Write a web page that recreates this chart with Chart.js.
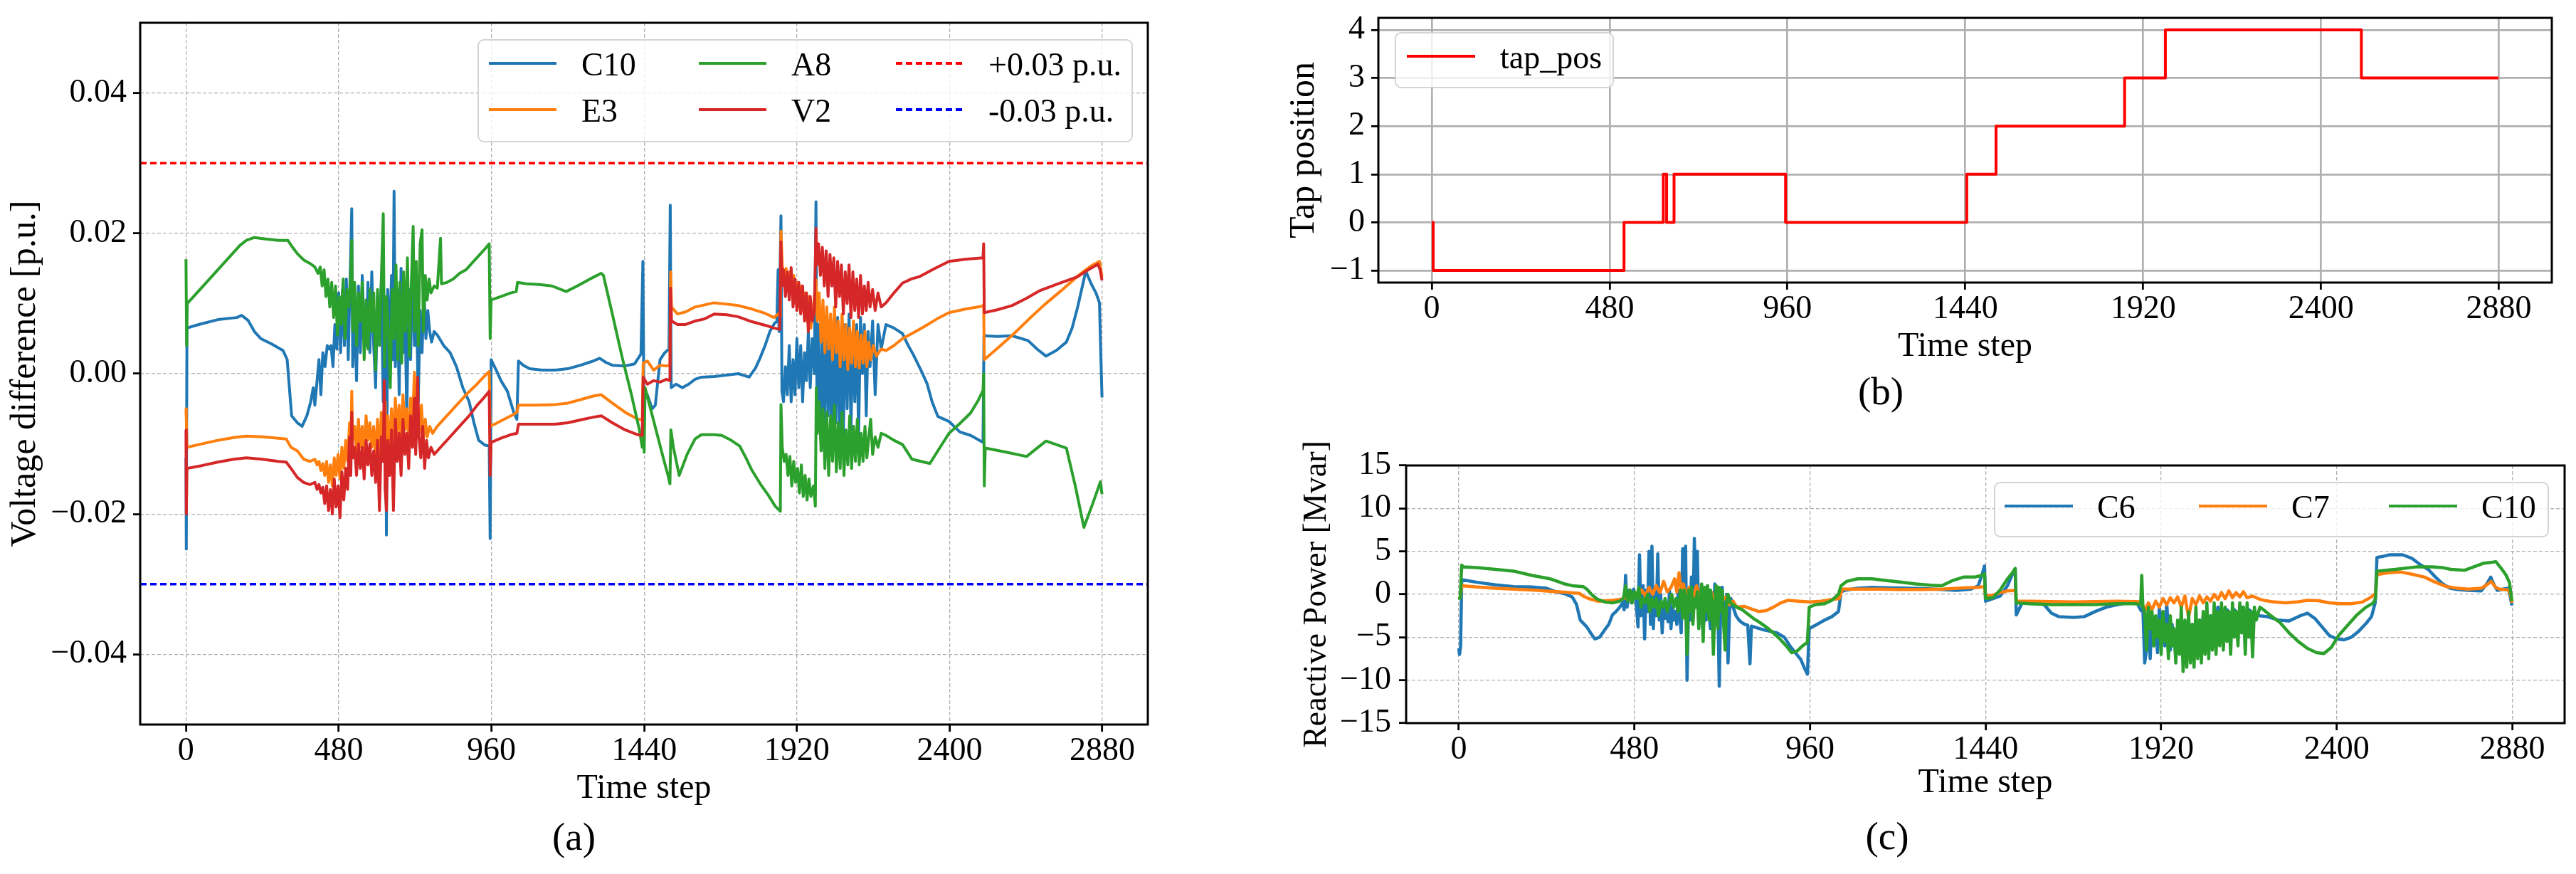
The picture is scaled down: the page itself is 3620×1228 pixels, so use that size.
<!DOCTYPE html>
<html><head><meta charset="utf-8">
<script src="https://cdn.jsdelivr.net/npm/chart.js@4.4.1/dist/chart.umd.min.js"></script>
<style>
html,body{margin:0;padding:0;background:#fff;}
body{width:3620px;height:1228px;position:relative;overflow:hidden;}
canvas{position:absolute;z-index:1;}
.lg{position:absolute;box-sizing:border-box;border:2.5px solid #d4d4d4;border-radius:9px;background:rgba(255,255,255,0.8);z-index:2;}
.lh{position:absolute;z-index:3;}
.lt{position:absolute;z-index:3;font-size:46px;line-height:1;color:#000;white-space:nowrap;transform:translateY(-50%);}
</style></head><body>
<canvas id="ca" width="1700" height="1228" style="left:0;top:0;width:1700px;height:1228px"></canvas>
<canvas id="cb" width="1920" height="610" style="left:1700px;top:0;width:1920px;height:610px"></canvas>
<canvas id="cc" width="1920" height="618" style="left:1700px;top:610px;width:1920px;height:618px"></canvas>
<script>
// ---------------- DATA ----------------
const xTicks = [0, 480, 960, 1440, 1920, 2400, 2880];
const yTicksA = [-0.04, -0.02, 0, 0.02, 0.04];
const yTicksB = [-1, 0, 1, 2, 3, 4];
const yTicksC = [-15, -10, -5, 0, 5, 10, 15];
const labelsA = ['C10', 'E3', 'A8', 'V2', '+0.03 p.u.', '-0.03 p.u.'];
const labelsB = ['tap_pos'];
const labelsC = ['C6', 'C7', 'C10'];
const upperLimit = 0.03;
const lowerLimit = -0.03;

// Panel (a): voltage difference [p.u.]  [time step, value]
const voltC10 = [[0,-0.012],[1,-0.025],[3,0.0065],[40,0.007],[100,0.0077],[160,0.008],[175,0.0083],[195,0.0076],[215,0.006],[235,0.005],[270,0.0042],[305,0.0033],[318,0.002],[332,-0.006],[350,-0.007],[365,-0.0075],[380,-0.006],[392,-0.004],[400,-0.002],[405,-0.0045],[412,-0.001],[418,0.002],[424,-0.003],[430,0.003],[437,0.001],[444,0.004],[450,0.0035],[456,0.004],[462,0.001],[468,0.007],[474,0.0035],[480,0.0115],[486,0.003],[492,0.012],[498,0.004],[504,0.0135],[510,0.002],[516,0.014],[521,0.0235],[524,0.001],[530,0.009],[536,-0.001],[542,0.0125],[548,0.003],[554,0.014],[560,0.006],[566,0.004],[572,0.013],[578,0.003],[584,0.0145],[590,0.004],[596,-0.002],[602,0.011],[608,0.005],[614,0.013],[620,-0.004],[626,0.009],[630,-0.023],[634,0.012],[640,0.004],[646,0.014],[650,0.002],[654,0.026],[658,0.001],[664,0.012],[670,-0.003],[676,0.015],[682,0.003],[688,0.01],[694,-0.006],[700,0.012],[706,0.002],[712,0.016],[718,0.004],[724,0.011],[730,-0.004],[736,0.009],[742,0.003],[748,0.012],[754,0.005],[760,0.009],[766,0.006],[772,0.0045],[780,0.006],[790,0.0055],[810,0.004],[830,0.003],[850,0.001],[870,-0.002],[890,-0.004],[905,-0.007],[920,-0.0095],[940,-0.0102],[953,-0.0103],[956,-0.0235],[959,0.002],[975,0.0005],[990,-0.001],[1010,-0.0025],[1030,-0.0055],[1040,-0.0065],[1045,0.0018],[1060,0.0012],[1080,0.0007],[1120,0.0005],[1160,0.0005],[1200,0.0007],[1240,0.0012],[1280,0.0018],[1300,0.0022],[1320,0.0016],[1340,0.0012],[1380,0.0011],[1410,0.0014],[1430,0.0028],[1436,0.016],[1439,-0.003],[1450,-0.003],[1465,-0.005],[1475,-0.0045],[1490,0.002],[1505,0.003],[1518,0.0035],[1522,0.024],[1525,-0.002],[1540,-0.0015],[1560,-0.002],[1580,-0.0015],[1600,-0.0008],[1620,-0.0005],[1660,-0.0004],[1700,-0.0002],[1736,0.0],[1770,-0.0005],[1790,0.0008],[1805,0.0023],[1820,0.004],[1835,0.006],[1850,0.0072],[1857,0.0074],[1861,0.0148],[1864,0.006],[1870,0.0225],[1873,-0.0025],[1878,-0.004],[1884,0.001],[1890,-0.003],[1896,0.004],[1902,-0.004],[1908,0.002],[1914,-0.003],[1920,0.005],[1926,-0.002],[1932,0.004],[1938,-0.004],[1944,0.003],[1950,-0.001],[1956,0.006],[1962,-0.002],[1968,0.005],[1975,0.0],[1980,0.0245],[1983,-0.004],[1988,0.007],[1994,-0.009],[2000,0.006],[2006,-0.011],[2012,0.008],[2018,-0.006],[2024,0.005],[2030,-0.0115],[2036,0.006],[2042,-0.007],[2048,0.008],[2054,-0.01],[2060,0.004],[2066,-0.009],[2072,0.007],[2078,-0.005],[2084,0.0085],[2090,-0.008],[2096,0.006],[2102,-0.004],[2108,0.007],[2114,-0.009],[2120,0.008],[2126,0.0],[2132,0.007],[2138,-0.006],[2144,0.006],[2150,0.001],[2158,0.0075],[2166,-0.003],[2175,0.007],[2185,0.0035],[2200,0.007],[2225,0.0065],[2252,0.0057],[2270,0.004],[2286,0.0027],[2310,0.0005],[2329,-0.0014],[2345,-0.004],[2363,-0.0061],[2398,-0.0068],[2432,-0.0083],[2466,-0.0088],[2490,-0.0094],[2505,-0.0098],[2508,0.0054],[2550,0.0053],[2596,0.0054],[2625,0.005],[2647,0.0047],[2675,0.0035],[2703,0.0025],[2735,0.0033],[2767,0.0045],[2785,0.0065],[2802,0.0094],[2815,0.012],[2828,0.0146],[2845,0.0128],[2860,0.0115],[2871,0.0101],[2875,0.003],[2879,-0.0034]];

const voltE3 = [[0,-0.005],[1,-0.0065],[3,-0.0105],[50,-0.01],[100,-0.0095],[150,-0.0091],[190,-0.0089],[240,-0.009],[290,-0.0092],[315,-0.0093],[330,-0.0105],[350,-0.011],[370,-0.0122],[390,-0.0125],[405,-0.0122],[412,-0.013],[418,-0.0125],[424,-0.0138],[430,-0.0128],[436,-0.0145],[442,-0.0125],[448,-0.0155],[454,-0.013],[460,-0.016],[466,-0.012],[472,-0.0145],[478,-0.0115],[484,-0.015],[490,-0.0105],[496,-0.0135],[502,-0.0095],[508,-0.0125],[514,-0.007],[518,-0.0115],[521,-0.0025],[524,-0.0095],[530,-0.0075],[536,-0.011],[542,-0.0065],[548,-0.0105],[554,-0.0075],[560,-0.0115],[566,-0.006],[572,-0.0095],[578,-0.007],[584,-0.0105],[590,-0.0075],[596,-0.012],[602,-0.0065],[608,-0.0115],[614,-0.0055],[620,-0.009],[626,-0.004],[630,-0.012],[634,-0.006],[640,-0.0105],[646,-0.005],[652,-0.01],[658,-0.0035],[664,-0.0085],[670,-0.0045],[676,-0.0095],[682,-0.003],[688,-0.008],[694,-0.005],[700,-0.0095],[706,-0.0035],[712,-0.007],[718,0.0002],[722,-0.006],[728,-0.0035],[734,-0.0085],[740,-0.0045],[746,-0.0095],[752,-0.0065],[758,-0.009],[766,-0.0075],[775,-0.0085],[790,-0.0075],[820,-0.006],[850,-0.0045],[880,-0.003],[910,-0.0017],[935,-0.0005],[953,0.0003],[956,-0.0075],[970,-0.0072],[1000,-0.0065],[1030,-0.0058],[1040,-0.0055],[1045,-0.0045],[1100,-0.0045],[1160,-0.0044],[1200,-0.0042],[1240,-0.0037],[1280,-0.0032],[1305,-0.003],[1340,-0.0042],[1380,-0.0055],[1420,-0.0065],[1434,-0.0066],[1437,0.0015],[1450,0.0018],[1470,0.0005],[1490,0.0012],[1510,0.0011],[1521,0.0012],[1523,0.0145],[1526,0.0095],[1545,0.0085],[1570,0.0088],[1600,0.0095],[1630,0.0098],[1660,0.0101],[1700,0.0099],[1736,0.0097],[1779,0.0092],[1820,0.0086],[1848,0.008],[1861,0.0085],[1868,0.0082],[1870,0.0203],[1874,0.0155],[1880,0.0135],[1886,0.015],[1892,0.0125],[1898,0.0145],[1904,0.0115],[1910,0.014],[1916,0.01],[1922,0.013],[1928,0.0095],[1934,0.0125],[1940,0.009],[1946,0.0115],[1952,0.0075],[1958,0.011],[1964,0.0065],[1972,0.0095],[1980,0.0134],[1984,0.0075],[1990,0.0115],[1996,0.0045],[2002,0.0105],[2008,0.003],[2014,0.0095],[2020,0.0035],[2026,0.0085],[2032,0.002],[2038,0.0095],[2044,0.003],[2050,0.0075],[2056,0.001],[2062,0.0085],[2068,0.002],[2074,0.007],[2080,0.0006],[2086,0.0065],[2092,0.0015],[2098,0.0075],[2104,0.001],[2110,0.006],[2116,0.0008],[2122,0.0055],[2128,0.0015],[2134,0.006],[2140,0.001],[2146,0.0045],[2152,0.002],[2160,0.004],[2170,0.0025],[2185,0.0035],[2200,0.0033],[2225,0.004],[2252,0.005],[2285,0.0058],[2320,0.0067],[2360,0.0078],[2398,0.0087],[2450,0.0092],[2502,0.0096],[2507,0.0098],[2509,0.002],[2550,0.0036],[2600,0.0056],[2650,0.0078],[2700,0.0099],[2750,0.0118],[2800,0.0138],[2828,0.0148],[2850,0.0155],[2871,0.016],[2879,0.0138]];

const voltA8 = [[0,0.0163],[2,0.004],[4,0.01],[30,0.0113],[60,0.0128],[100,0.0148],[140,0.0168],[170,0.0183],[190,0.019],[215,0.0194],[250,0.0192],[290,0.019],[320,0.019],[335,0.018],[350,0.0171],[370,0.0162],[390,0.0157],[405,0.0152],[415,0.0143],[422,0.0152],[428,0.0125],[434,0.0148],[440,0.011],[446,0.0135],[452,0.0095],[458,0.013],[464,0.008],[470,0.0125],[476,0.0055],[482,0.011],[488,0.007],[494,0.0135],[500,0.005],[506,0.012],[512,0.0095],[518,0.0145],[521,0.019],[524,0.006],[530,0.013],[536,0.004],[542,0.0115],[548,0.0075],[554,0.013],[560,0.002],[566,0.0105],[572,0.0035],[578,0.012],[584,0.006],[590,0.0115],[596,0.0005],[602,0.012],[608,0.004],[614,0.0135],[620,0.0228],[624,0.001],[630,0.011],[636,0.0065],[642,-0.002],[648,0.012],[654,0.005],[660,0.0155],[666,0.002],[672,0.013],[678,0.0015],[684,0.0145],[690,0.006],[696,0.0165],[702,0.0025],[708,0.0125],[714,0.021],[718,0.006],[724,0.016],[730,0.004],[736,0.0185],[742,0.0205],[746,0.006],[752,0.014],[758,0.0105],[764,0.0135],[770,0.0115],[780,0.0125],[790,0.0122],[800,0.0193],[803,0.0128],[820,0.013],[840,0.0135],[860,0.0143],[880,0.0148],[900,0.0158],[920,0.0168],[940,0.0178],[953,0.0185],[956,0.005],[959,0.0105],[990,0.011],[1020,0.0115],[1038,0.0117],[1042,0.013],[1070,0.0128],[1110,0.0127],[1150,0.0125],[1195,0.0117],[1230,0.0125],[1270,0.0135],[1305,0.0143],[1312,0.014],[1340,0.0085],[1370,0.0025],[1400,-0.003],[1425,-0.008],[1434,-0.0105],[1437,-0.002],[1440,-0.0112],[1443,-0.002],[1460,-0.005],[1480,-0.0085],[1500,-0.012],[1515,-0.0145],[1521,-0.0157],[1524,-0.008],[1532,-0.0105],[1550,-0.0145],[1575,-0.0115],[1600,-0.0093],[1620,-0.0087],[1660,-0.0087],[1684,-0.0088],[1710,-0.0094],[1740,-0.0103],[1760,-0.012],[1779,-0.0138],[1805,-0.0157],[1830,-0.0173],[1852,-0.0189],[1868,-0.0196],[1870,-0.0044],[1874,-0.0105],[1880,-0.0125],[1886,-0.0115],[1892,-0.0145],[1898,-0.0118],[1904,-0.016],[1910,-0.0125],[1916,-0.0155],[1922,-0.0135],[1928,-0.017],[1934,-0.013],[1940,-0.0175],[1946,-0.0145],[1952,-0.018],[1958,-0.015],[1964,-0.0175],[1972,-0.016],[1978,-0.0189],[1981,-0.002],[1984,-0.0085],[1990,-0.004],[1996,-0.011],[2002,-0.005],[2008,-0.0135],[2014,-0.0055],[2020,-0.0145],[2026,-0.006],[2032,-0.0125],[2038,-0.0045],[2044,-0.014],[2050,-0.007],[2056,-0.0135],[2062,-0.0055],[2068,-0.0145],[2074,-0.008],[2080,-0.013],[2086,-0.006],[2092,-0.0135],[2098,-0.0075],[2104,-0.0125],[2110,-0.0065],[2116,-0.013],[2122,-0.0085],[2128,-0.0125],[2134,-0.0075],[2140,-0.012],[2146,-0.009],[2152,-0.0065],[2158,-0.0115],[2166,-0.009],[2175,-0.0105],[2185,-0.0085],[2200,-0.0088],[2225,-0.0095],[2252,-0.0101],[2282,-0.0122],[2310,-0.0125],[2338,-0.0128],[2370,-0.0105],[2398,-0.0085],[2430,-0.0072],[2466,-0.0056],[2490,-0.0038],[2505,-0.0024],[2507,0.0],[2509,-0.016],[2512,-0.0106],[2580,-0.0112],[2642,-0.0118],[2703,-0.0096],[2767,-0.0106],[2795,-0.016],[2822,-0.0219],[2850,-0.0185],[2874,-0.0154],[2879,-0.0172]];

const voltV2 = [[0,-0.008],[1,-0.02],[3,-0.0135],[50,-0.0131],[100,-0.0126],[150,-0.0122],[190,-0.012],[240,-0.0122],[290,-0.0125],[315,-0.0126],[330,-0.0135],[350,-0.0148],[370,-0.0155],[390,-0.0158],[405,-0.0155],[412,-0.0165],[418,-0.0158],[424,-0.017],[430,-0.0162],[436,-0.0185],[442,-0.016],[448,-0.0195],[454,-0.0165],[460,-0.02],[466,-0.015],[472,-0.019],[478,-0.016],[484,-0.0205],[490,-0.014],[496,-0.018],[502,-0.0135],[508,-0.0165],[514,-0.009],[518,-0.0145],[521,-0.0055],[524,-0.012],[530,-0.0105],[536,-0.0145],[542,-0.01],[548,-0.0135],[554,-0.0105],[560,-0.015],[566,-0.0095],[572,-0.013],[578,-0.01],[584,-0.0145],[590,-0.011],[596,-0.0155],[602,-0.0095],[608,-0.0195],[614,-0.009],[620,-0.0125],[623,-0.001],[626,-0.0165],[630,-0.0195],[634,-0.0095],[640,-0.0145],[646,-0.008],[652,-0.0195],[658,-0.0065],[664,-0.0125],[670,-0.0085],[676,-0.0145],[682,-0.0065],[688,-0.0115],[694,-0.0085],[700,-0.0135],[706,-0.006],[712,-0.0105],[718,-0.0035],[722,-0.0115],[728,-0.0005],[732,-0.009],[738,-0.012],[744,-0.0075],[750,-0.0135],[756,-0.0095],[762,-0.012],[770,-0.0105],[780,-0.0115],[800,-0.0105],[830,-0.009],[860,-0.0075],[890,-0.006],[915,-0.0045],[935,-0.0035],[953,-0.0025],[956,-0.0145],[959,-0.0098],[990,-0.0092],[1020,-0.0087],[1040,-0.0085],[1045,-0.0072],[1100,-0.0072],[1160,-0.0072],[1200,-0.007],[1240,-0.0066],[1280,-0.0062],[1305,-0.006],[1340,-0.007],[1380,-0.008],[1420,-0.0087],[1434,-0.0088],[1437,-0.0005],[1450,-0.0015],[1470,-0.001],[1490,-0.0012],[1510,-0.0008],[1521,-0.001],[1523,0.0122],[1526,0.0075],[1545,0.007],[1570,0.007],[1600,0.0075],[1630,0.0078],[1660,0.0085],[1700,0.0084],[1736,0.0081],[1779,0.0074],[1820,0.0069],[1848,0.0065],[1866,0.0063],[1870,0.0188],[1873,0.0125],[1878,0.0148],[1884,0.011],[1890,0.0145],[1896,0.0105],[1902,0.0151],[1908,0.0095],[1914,0.0135],[1920,0.009],[1926,0.013],[1932,0.0085],[1938,0.0125],[1944,0.0075],[1950,0.0115],[1956,0.006],[1962,0.011],[1968,0.0075],[1975,0.009],[1980,0.0207],[1983,0.0155],[1988,0.0185],[1994,0.014],[2000,0.018],[2006,0.0125],[2012,0.0175],[2018,0.011],[2024,0.017],[2030,0.0125],[2036,0.0165],[2042,0.0095],[2048,0.016],[2054,0.011],[2060,0.0155],[2066,0.0085],[2072,0.0145],[2078,0.01],[2084,0.0155],[2090,0.008],[2096,0.0145],[2102,0.009],[2108,0.0135],[2114,0.008],[2120,0.014],[2126,0.0085],[2132,0.0125],[2138,0.009],[2144,0.013],[2150,0.0095],[2158,0.012],[2166,0.009],[2175,0.0115],[2185,0.0095],[2200,0.0101],[2225,0.0115],[2252,0.0129],[2280,0.0135],[2304,0.0138],[2350,0.0149],[2398,0.016],[2450,0.0163],[2505,0.0165],[2507,0.0185],[2509,0.0087],[2550,0.0091],[2596,0.0097],[2640,0.0107],[2682,0.0118],[2740,0.0128],[2802,0.0138],[2836,0.0148],[2866,0.0156],[2873,0.0148],[2879,0.0133]];

// Panel (b): tap position, value holds from the given step on
const tapSteps = [0, 4, 519, 625, 634, 654, 955, 1444, 1523, 1870, 1980, 2509, 2879];
const tapValues = [0, -1, 0, 1, 0, 1, 0, 1, 2, 3, 4, 3, 3];

// Panel (c): reactive power [Mvar]  [time step, value]
const qC6 = [[0,-6.3],[2,-7.0],[5,-6.0],[8,1.7],[50,1.4],[100,1.1],[150,0.9],[200,0.85],[240,0.7],[265,0.3],[290,0.05],[310,-0.3],[322,-1.2],[332,-3.0],[350,-3.8],[362,-4.6],[372,-5.2],[385,-5.0],[398,-4.2],[410,-3.5],[420,-2.4],[430,-2.0],[440,-1.5],[448,-1.0],[452,-1.8],[456,2.2],[460,-1.5],[466,0.5],[472,-1.0],[478,0.6],[484,-0.5],[490,-3.8],[494,4.6],[498,-2.5],[504,1.0],[508,-5.2],[512,0.5],[516,-2.0],[520,5.0],[524,-3.5],[528,5.6],[532,-4.0],[536,0.5],[540,-2.5],[544,4.7],[548,-3.0],[552,0.0],[556,-4.5],[560,-1.0],[564,-2.8],[568,-1.5],[572,-3.2],[576,0.5],[580,-4.0],[584,-1.5],[588,-3.0],[592,-2.0],[596,-3.5],[600,0.5],[604,-2.5],[608,-4.5],[612,5.3],[616,-2.0],[620,5.6],[624,-10.0],[628,-1.5],[632,-3.0],[636,2.0],[640,-3.0],[644,6.5],[648,-1.0],[652,5.0],[656,-3.5],[660,0.5],[664,-2.0],[668,-4.5],[672,-1.0],[676,-3.0],[680,1.0],[684,-2.0],[688,-4.0],[692,0.0],[696,-2.5],[700,1.2],[704,-3.5],[708,-0.5],[712,-10.7],[716,-1.0],[720,0.8],[724,-2.0],[728,-4.0],[732,0.0],[736,-8.0],[740,-2.0],[744,-0.5],[750,-1.5],[758,-2.5],[766,-3.0],[774,-3.3],[782,-3.5],[790,-3.6],[796,-8.1],[800,-3.7],[815,-3.9],[830,-4.1],[850,-4.3],[870,-4.5],[890,-5.0],[905,-6.0],[920,-6.8],[935,-7.6],[945,-8.6],[953,-9.3],[958,-4.0],[975,-3.6],[1000,-3.0],[1020,-2.6],[1038,-2.0],[1045,0.3],[1060,0.5],[1090,0.7],[1130,0.8],[1180,0.75],[1230,0.7],[1280,0.65],[1320,0.55],[1360,0.45],[1400,0.6],[1420,1.0],[1432,2.5],[1437,3.3],[1440,-0.8],[1460,-0.5],[1480,-0.2],[1500,1.0],[1515,2.5],[1521,3.0],[1524,-2.4],[1540,-1.0],[1570,-1.0],[1600,-1.2],[1620,-2.2],[1640,-2.6],[1680,-2.7],[1710,-2.6],[1740,-2.0],[1770,-1.5],[1800,-1.2],[1830,-1.0],[1855,-1.1],[1865,-1.9],[1870,-1.5],[1875,-8.0],[1880,-6.5],[1885,-3.0],[1890,-7.5],[1895,-2.5],[1900,-6.0],[1905,-3.0],[1910,-6.8],[1915,-1.5],[1920,-5.0],[1925,-2.0],[1930,-6.0],[1935,-1.0],[1940,-4.0],[1945,-6.5],[1950,-3.5],[1955,-5.0],[1960,-7.0],[1965,-4.0],[1970,-6.0],[1975,-3.5],[1980,-6.5],[1985,-4.5],[1990,-6.0],[1995,-4.0],[2000,-5.5],[2005,-3.5],[2010,-6.0],[2015,-4.0],[2020,-5.5],[2025,-3.0],[2030,-5.0],[2035,-2.5],[2040,-4.5],[2045,-3.0],[2050,-5.0],[2055,-2.5],[2060,-4.0],[2065,-2.0],[2070,-3.5],[2075,-1.5],[2080,-3.0],[2085,-1.5],[2090,-2.5],[2100,-1.8],[2110,-2.3],[2120,-1.8],[2130,-2.2],[2140,-1.5],[2150,-2.0],[2160,-1.8],[2175,-2.3],[2190,-2.5],[2210,-2.6],[2240,-3.0],[2270,-3.1],[2300,-2.5],[2320,-2.2],[2340,-2.8],[2360,-3.8],[2380,-4.8],[2400,-5.2],[2420,-5.3],[2440,-5.0],[2460,-4.3],[2480,-3.4],[2495,-2.6],[2505,-1.0],[2510,4.3],[2525,4.4],[2545,4.6],[2580,4.6],[2605,4.2],[2630,3.4],[2650,2.9],[2670,2.0],[2690,1.2],[2710,0.7],[2730,0.55],[2760,0.45],[2795,0.4],[2810,1.2],[2821,2.0],[2830,1.1],[2839,0.45],[2855,0.6],[2868,0.7],[2872,0.2],[2879,-1.3]];

const qC7 = [[0,-0.5],[4,-0.4],[8,1.0],[50,0.85],[100,0.7],[150,0.6],[200,0.5],[250,0.35],[300,0.2],[330,0.1],[340,-0.2],[355,-0.5],[380,-0.8],[420,-0.7],[440,-0.6],[460,-0.4],[470,-0.7],[480,0.2],[490,-0.3],[500,0.5],[510,-0.2],[520,0.8],[530,0.0],[540,1.0],[550,0.2],[560,1.5],[570,0.3],[580,0.8],[590,1.8],[596,0.3],[602,2.5],[608,0.5],[614,1.2],[620,0.0],[630,0.8],[640,-0.5],[650,1.0],[660,-0.5],[670,0.6],[680,-0.8],[690,0.3],[700,-1.0],[710,0.0],[720,-0.8],[730,-0.3],[740,-1.2],[750,-0.8],[760,-1.5],[780,-1.4],[800,-1.7],[820,-2.0],[840,-1.9],[860,-1.5],[880,-1.0],[900,-0.7],[930,-0.8],[960,-0.9],[990,-0.8],[1020,-0.6],[1040,-0.5],[1048,0.6],[1090,0.6],[1150,0.6],[1200,0.55],[1260,0.55],[1320,0.6],[1380,0.75],[1420,0.8],[1437,0.9],[1440,-0.2],[1460,-0.1],[1480,0.2],[1500,0.4],[1521,0.45],[1524,-0.8],[1560,-0.8],[1620,-0.85],[1680,-0.9],[1740,-0.85],[1800,-0.8],[1850,-0.85],[1868,-0.9],[1875,-2.0],[1885,-1.0],[1895,-1.8],[1905,-0.8],[1915,-1.5],[1925,-0.5],[1935,-1.2],[1945,-0.4],[1955,-1.0],[1965,-0.3],[1975,-1.5],[1985,-0.2],[1995,-2.7],[2005,-0.5],[2015,-1.2],[2025,-0.2],[2035,-1.0],[2045,-0.3],[2055,-0.8],[2065,0.0],[2075,-0.6],[2085,0.2],[2095,-0.5],[2105,0.4],[2115,-0.4],[2125,0.2],[2135,-0.3],[2145,0.3],[2155,-0.4],[2170,-0.2],[2185,-0.5],[2200,-0.7],[2230,-0.9],[2260,-1.0],[2290,-0.9],[2320,-0.7],[2350,-0.75],[2380,-1.0],[2410,-1.1],[2440,-1.1],[2470,-0.9],[2495,-0.3],[2506,0.1],[2510,2.3],[2540,2.5],[2575,2.6],[2610,2.3],[2640,2.0],[2670,1.4],[2700,0.9],[2730,0.7],[2760,0.6],[2795,0.7],[2810,1.1],[2822,1.5],[2835,0.8],[2845,0.6],[2870,0.5],[2875,0.0],[2879,-1.0]];

const qC10 = [[0,-0.6],[4,-0.4],[8,3.4],[12,3.2],[50,3.1],[100,2.9],[150,2.7],[200,2.2],[250,1.8],[270,1.5],[290,1.2],[310,1.0],[340,0.9],[350,0.6],[365,-0.1],[380,-0.6],[400,-0.9],[420,-1.0],[440,-0.8],[450,-0.5],[456,1.0],[462,-0.8],[468,0.5],[474,-1.0],[480,0.3],[486,-0.5],[492,0.8],[498,-1.5],[504,-0.5],[510,-1.0],[516,0.0],[522,-2.0],[528,-0.5],[534,-1.5],[540,-0.5],[546,-2.5],[552,-0.8],[558,-1.5],[564,-0.5],[570,-2.0],[576,-1.0],[582,0.0],[588,-1.5],[594,-0.5],[600,-2.0],[606,0.5],[612,-2.8],[616,0.5],[620,-1.0],[624,-7.0],[628,0.5],[632,-2.0],[636,0.8],[640,-3.5],[644,-0.5],[648,-1.5],[652,0.3],[656,-4.0],[660,-1.0],[664,1.2],[668,-5.5],[672,0.8],[676,-2.0],[680,1.0],[684,-3.0],[688,0.5],[692,-1.0],[696,-7.0],[700,-1.0],[704,1.0],[708,-4.0],[712,0.8],[716,-2.0],[720,0.5],[724,-3.5],[728,-6.5],[732,-1.0],[736,0.0],[742,-1.0],[750,-1.2],[760,-1.5],[775,-1.8],[790,-2.3],[805,-2.8],[820,-3.2],[840,-3.8],[860,-4.5],[880,-5.3],[895,-6.0],[910,-6.8],[925,-6.6],[940,-6.0],[953,-5.6],[958,-1.5],[975,-1.2],[1000,-1.1],[1020,-0.7],[1038,0.0],[1045,1.0],[1060,1.5],[1090,1.8],[1130,1.8],[1170,1.6],[1210,1.4],[1250,1.2],[1290,1.05],[1320,1.0],[1350,1.6],[1380,2.0],[1410,2.0],[1430,2.2],[1437,2.4],[1440,-0.5],[1460,-0.4],[1480,0.5],[1500,1.8],[1515,2.6],[1521,3.0],[1524,-1.0],[1560,-1.1],[1620,-1.2],[1680,-1.2],[1740,-1.2],[1800,-1.1],[1850,-1.1],[1864,-1.2],[1867,2.2],[1870,-1.5],[1875,-2.0],[1880,-6.5],[1885,-1.5],[1890,-4.0],[1895,-2.0],[1900,-6.0],[1905,-2.5],[1910,-5.0],[1915,-3.0],[1920,-7.0],[1925,-2.0],[1930,-5.5],[1935,-3.5],[1940,-7.5],[1945,-2.5],[1950,-6.0],[1955,-4.0],[1960,-8.0],[1965,-3.0],[1970,-7.0],[1975,-1.5],[1980,-9.0],[1985,-3.0],[1990,-8.5],[1995,-2.0],[2000,-8.0],[2005,-3.5],[2010,-8.5],[2015,-1.5],[2020,-7.5],[2025,-3.0],[2030,-8.0],[2035,-2.0],[2040,-7.0],[2045,-1.0],[2050,-7.5],[2055,-2.5],[2060,-6.5],[2065,-1.0],[2070,-7.0],[2075,-2.0],[2080,-6.0],[2085,-1.0],[2090,-6.5],[2095,-1.5],[2100,-5.5],[2105,-2.0],[2110,-7.0],[2115,-1.0],[2120,-5.0],[2125,-2.0],[2130,-6.0],[2135,-1.0],[2140,-4.5],[2145,-1.5],[2150,-7.0],[2155,-1.0],[2160,-5.0],[2165,-2.0],[2170,-7.3],[2175,-1.5],[2180,-3.0],[2190,-1.5],[2200,-1.8],[2220,-2.5],[2245,-3.3],[2270,-4.5],[2295,-5.5],[2320,-6.3],[2345,-6.8],[2365,-6.9],[2385,-6.2],[2405,-4.8],[2430,-3.6],[2455,-2.4],[2480,-1.5],[2500,-1.0],[2506,-0.5],[2510,2.7],[2560,2.9],[2620,3.2],[2660,3.2],[2690,3.1],[2712,2.9],[2750,2.8],[2775,3.2],[2800,3.6],[2820,3.7],[2835,3.8],[2850,3.0],[2862,2.3],[2872,1.4],[2879,-0.8]];

// ---------------- FONT PICK (first installed serif face) ----------------
function pickSerif(cands) {
  const c = document.createElement('canvas').getContext('2d');
  const s = 'mmmmmmmmmmlliWWQ0123456789abcdefgh';
  const bases = ['monospace', 'sans-serif'];
  const w = {};
  bases.forEach(b => { c.font = '72px ' + b; w[b] = c.measureText(s).width; });
  for (const f of cands) {
    for (const b of bases) {
      c.font = `72px "${f}", ${b}`;
      if (Math.abs(c.measureText(s).width - w[b]) > 0.5) return `"${f}", serif`;
    }
  }
  return 'serif';
}
const FONT = pickSerif(['Liberation Serif', 'Times New Roman', 'Tinos', 'Nimbus Roman', 'Nimbus Roman No9 L', 'FreeSerif', 'DejaVu Serif', 'Noto Serif', 'Times']);
document.body.style.fontFamily = FONT;

// ---------------- CHART SETUP ----------------
const X_MIN = -143.95, X_MAX = 3022.95;
const C_BLUE = '#1f77b4', C_ORANGE = '#ff7f0e', C_GREEN = '#2ca02c', C_RED = '#d62728';
const pts = arr => arr.map(([x, y]) => ({x, y}));
const minusFmt = d => v => (v < 0 ? '\u2212' : '') + Math.abs(v).toFixed(d);

function xScaleCfg(height, titlePadBottom, gridWidth, dash) {
  return {
    type: 'linear', min: X_MIN, max: X_MAX,
    afterBuildTicks: s => { s.ticks = xTicks.map(v => ({value: v})); },
    afterFit: s => { s.height = height; },
    ticks: {autoSkip: false, maxRotation: 0, minRotation: 0, padding: 0, color: '#000',
            font: {family: FONT, size: 46, lineHeight: 1.2}, callback: v => String(v)},
    grid: {color: '#b0b0b0', lineWidth: gridWidth, drawTicks: true, tickLength: 10, tickColor: '#000', tickWidth: 2.8, tickBorderDash: []},
    border: {display: false, dash: dash},
    title: {display: true, text: 'Time step', color: '#000', font: {family: FONT, size: 48, lineHeight: 1.2},
            padding: {top: 0, bottom: titlePadBottom}}
  };
}
function yScaleCfg(min, max, ticksArr, fmt, width, tickPad, title, titleSize, titlePadTop, gridWidth, dash) {
  return {
    type: 'linear', min, max,
    afterBuildTicks: s => { s.ticks = ticksArr.map(v => ({value: v})); },
    afterFit: s => { s.width = width; },
    ticks: {autoSkip: false, padding: tickPad, color: '#000', font: {family: FONT, size: 46, lineHeight: 0.7}, callback: fmt},
    grid: {color: '#b0b0b0', lineWidth: gridWidth, drawTicks: true, tickLength: 10, tickColor: '#000', tickWidth: 2.8, tickBorderDash: []},
    border: {display: false, dash: dash},
    title: {display: true, text: title, color: '#000', font: {family: FONT, size: titleSize, lineHeight: 1.2},
            padding: {top: titlePadTop, bottom: 0}}
  };
}
const frame = {
  id: 'frame',
  afterDatasetsDraw(chart) {
    const {ctx, chartArea: a} = chart;
    ctx.save(); ctx.strokeStyle = '#000'; ctx.lineWidth = 3;
    ctx.strokeRect(a.left, a.top, a.right - a.left, a.bottom - a.top);
    ctx.restore();
  }
};
// HTML legend built from the chart's datasets (column-major like matplotlib)
const htmlLegend = {
  id: 'htmlLegend',
  afterRender(chart, args, o) {
    if (chart.$legendDone) return; chart.$legendDone = true;
    const box = document.createElement('div'); box.className = 'lg';
    Object.assign(box.style, {left: o.box[0] + 'px', top: o.box[1] + 'px', width: o.box[2] + 'px', height: o.box[3] + 'px'});
    document.body.appendChild(box);
    chart.data.datasets.forEach((ds, i) => {
      const col = Math.floor(i / o.rows.length), row = i % o.rows.length;
      const x = o.cols[col], y = o.rows[row];
      const h = document.createElement('div'); h.className = 'lh';
      const lw = ds.borderWidth;
      Object.assign(h.style, {left: x + 'px', top: (y - lw / 2) + 'px', width: o.handle + 'px', height: lw + 'px'});
      if (ds.borderDash && ds.borderDash.length) {
        const [on, off] = ds.borderDash;
        h.style.background = `repeating-linear-gradient(90deg, ${ds.borderColor} 0 ${on}px, transparent ${on}px ${on + off}px)`;
      } else h.style.background = ds.borderColor;
      document.body.appendChild(h);
      const t = document.createElement('div'); t.className = 'lt'; t.textContent = ds.label;
      Object.assign(t.style, {left: (x + o.textOff) + 'px', top: (y + 2) + 'px', fontFamily: FONT});
      document.body.appendChild(t);
    });
  }
};
const lineDs = (label, data, color, width, order, extra) => Object.assign({
  label, data, borderColor: color, backgroundColor: color, borderWidth: width, pointRadius: 0,
  fill: false, tension: 0, borderJoinStyle: 'round', order
}, extra || {});
const common = {responsive: false, animation: false, events: [], normalized: true};
const captionCfg = (text, padBottom) => ({display: true, position: 'bottom', text, color: '#000',
  font: {family: FONT, size: 55, weight: 'normal', lineHeight: 1.2}, padding: {top: 0, bottom: padBottom}});

// ---- Panel (a)
new Chart(document.getElementById('ca'), {
  type: 'line',
  data: {datasets: [
    lineDs(labelsA[0], pts(voltC10), C_BLUE, 4, 6),
    lineDs(labelsA[1], pts(voltE3), C_ORANGE, 4, 5),
    lineDs(labelsA[2], pts(voltA8), C_GREEN, 4, 4),
    lineDs(labelsA[3], pts(voltV2), C_RED, 4, 3),
    lineDs(labelsA[4], [{x: X_MIN, y: upperLimit}, {x: X_MAX, y: upperLimit}], '#ff0000', 3.5, 2, {borderDash: [9, 5]}),
    lineDs(labelsA[5], [{x: X_MIN, y: lowerLimit}, {x: X_MAX, y: lowerLimit}], '#0000ff', 3.5, 1, {borderDash: [9, 5]})
  ]},
  options: Object.assign({}, common, {
    layout: {padding: {left: 0, top: 32, right: 87, bottom: 0}},
    plugins: {legend: {display: false}, tooltip: {enabled: false},
      title: captionCfg('(a)', 15.5),
      htmlLegend: {box: [671, 55, 921, 145], rows: [89, 154], cols: [687, 982, 1259], handle: 95, textOff: 130}},
    scales: {
      x: xScaleCfg(128.5, 8.9, 1.3, [5, 3]),
      y: yScaleCfg(-0.05, 0.05, yTicksA, minusFmt(2), 197, 9, 'Voltage difference [p.u.]', 50, 6, 1.3, [5, 3])
    }
  }),
  plugins: [frame, htmlLegend]
});

// ---- Panel (b)
new Chart(document.getElementById('cb'), {
  type: 'line',
  data: {datasets: [
    lineDs(labelsB[0], tapSteps.map((t, i) => ({x: t, y: tapValues[i]})), '#ff0000', 4, 1, {stepped: 'before'})
  ]},
  options: Object.assign({}, common, {
    layout: {padding: {left: 0, top: 22, right: 34, bottom: 0}},
    plugins: {legend: {display: false}, tooltip: {enabled: false},
      title: captionCfg('(b)', 23.5),
      htmlLegend: {box: [1960, 45, 308, 79], rows: [79], cols: [1977], handle: 96, textOff: 131}},
    scales: {
      x: xScaleCfg(123.5, 3.9, 2.7, []),
      y: yScaleCfg(-1.25, 4.25, yTicksB, minusFmt(0), 237, 9, 'Tap position', 50, 102.6, 2.7, [])
    }
  }),
  plugins: [frame, htmlLegend]
});

// ---- Panel (c)
new Chart(document.getElementById('cc'), {
  type: 'line',
  data: {datasets: [
    lineDs(labelsC[0], pts(qC6), C_BLUE, 4.5, 3),
    lineDs(labelsC[1], pts(qC7), C_ORANGE, 4.5, 2),
    lineDs(labelsC[2], pts(qC10), C_GREEN, 4.5, 1)
  ]},
  options: Object.assign({}, common, {
    layout: {padding: {left: 0, top: 44, right: 16, bottom: 0}},
    plugins: {legend: {display: false}, tooltip: {enabled: false},
      title: captionCfg('(c)', 16.8),
      htmlLegend: {box: [2802, 677, 780, 78], rows: [711], cols: [2817, 3090, 3357], handle: 96, textOff: 130}},
    scales: {
      x: xScaleCfg(129.2, 15.6, 1.3, [5, 3]),
      y: yScaleCfg(-15, 15, yTicksC, minusFmt(0), 276, 11, 'Reactive Power [Mvar]', 46, 123.4, 1.3, [5, 3])
    }
  }),
  plugins: [frame, htmlLegend]
});
</script>
</body></html>
